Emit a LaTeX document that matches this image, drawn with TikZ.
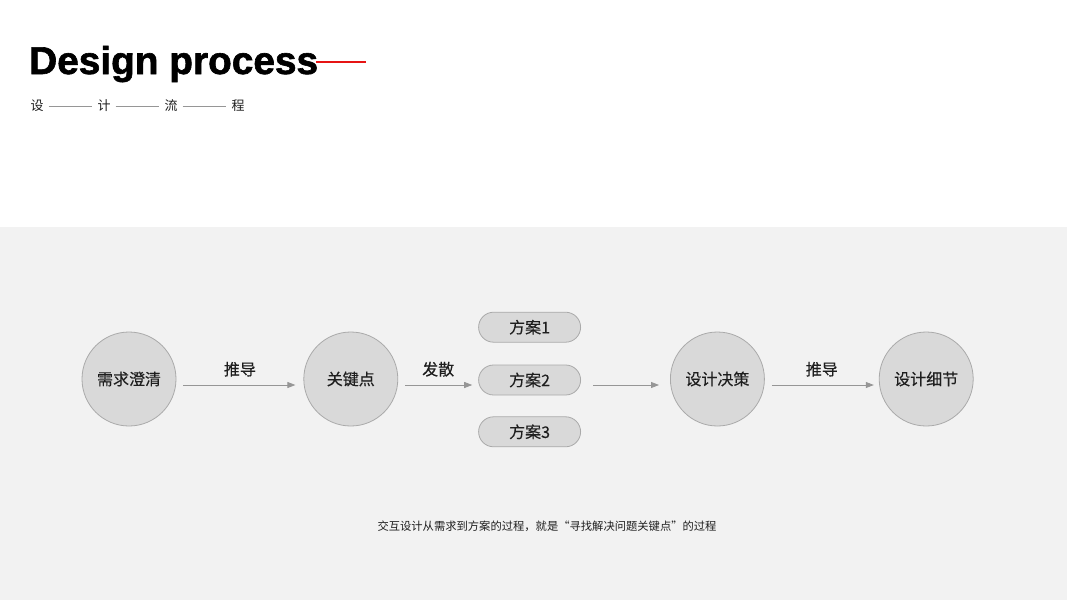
\documentclass[tikz,border=0pt]{standalone}
\usepackage{fontspec}
\setmainfont{Liberation Sans}
\newfontfamily\cjk{Noto Sans CJK SC}
\newfontfamily\cjkmedio[FakeBold=0.25]{Noto Sans CJK SC}
\newfontfamily\titular[FakeBold=1.6]{Liberation Sans Bold}
\usepackage{tikz}
\usetikzlibrary{arrows.meta,positioning}
\definecolor{fondo}{RGB}{242,242,242}
\definecolor{relleno}{RGB}{217,217,217}
\definecolor{borde}{RGB}{170,170,170}
\definecolor{flecha}{RGB}{150,150,150}
\definecolor{texto}{RGB}{30,30,30}
\definecolor{rojo}{RGB}{230,20,20}
\tikzset{
  etapa/.style={circle,draw=borde,fill=relleno,line width=0.8pt,minimum size=94pt,inner sep=0pt,
    text=texto,font=\cjkmedio\fontsize{16}{18}\selectfont},
  opcion/.style={draw=borde,fill=relleno,rounded corners=15pt,line width=0.8pt,minimum width=102pt,
    minimum height=30pt,inner sep=0pt,text=texto,font=\cjkmedio\fontsize{16}{18}\selectfont},
  paso/.style={draw=flecha,line width=0.8pt,-{Triangle[length=8pt,width=6pt]},shorten <=7pt,shorten >=8pt},
  etiqueta/.style={midway,above=8pt,inner sep=0pt,text=texto,font=\cjkmedio\fontsize{16}{18}\selectfont},
  letra/.style={inner sep=0pt,text=texto,font=\cjk\fontsize{13}{14}\selectfont},
  guion/.style={draw=flecha,line width=0.8pt,shorten <=5pt,shorten >=5pt}
}

\begin{document}
\begin{tikzpicture}[x=1pt,y=-1pt]
\useasboundingbox (0,0) rectangle (1067,600);
\fill[white] (0,0) rectangle (1067,600);
\fill[fondo] (0,227) rectangle (1067,600);

% cabecera
\node[anchor=base west,inner sep=0pt,font=\titular\fontsize{38.8}{40}\selectfont] (titulo) at (29,74) {Design process};
\coordinate (rojoA) at (316,62);
\coordinate (rojoB) at (366,62);
\draw[rojo,line width=2pt] (rojoA) -- (rojoB);
\node[letra] (s1) at (37,106) {设};
\node[letra] (s2) at (104,106) {计};
\node[letra] (s3) at (171,106) {流};
\node[letra] (s4) at (238,106) {程};
\draw[guion] (s1) -- (s2);
\draw[guion] (s2) -- (s3);
\draw[guion] (s3) -- (s4);

% flujo
\node[etapa] (necesidad) at (129,379) {需求澄清};
\node[etapa,right=127pt of necesidad] (clave) {关键点};
\node[opcion,right=80pt of clave,yshift=-1pt] (op2) {方案2};
\node[opcion,above=22pt of op2] (op1) {方案1};
\node[opcion,below=21pt of op2] (op3) {方案3};
\node[etapa,right=89pt of op2,yshift=1pt] (decision) {设计决策};
\node[etapa,right=114pt of decision] (detalle) {设计细节};

\draw[paso] ([yshift=-6pt]necesidad.east) -- node[etiqueta] {推导} ([yshift=-6pt]clave.west);
\draw[paso,shorten >=6pt] ([yshift=-6pt]clave.east) -- node[etiqueta] {发散} ([yshift=-6pt]clave.east -| op2.west);
\draw[paso,shorten <=12pt,shorten >=11pt] ([yshift=-6pt]op2.east |- decision.west) -- ([yshift=-6pt]decision.west);
\draw[paso,shorten >=5pt] ([yshift=-6pt]decision.east) -- node[etiqueta] {推导} ([yshift=-6pt]detalle.west);

\node[text=texto,font=\cjk\fontsize{11.3}{13}\selectfont] (nota) at (547,526)
{交互设计从需求到方案的过程，就是“寻找解决问题关键点”的过程};
\end{tikzpicture}
\end{document}
